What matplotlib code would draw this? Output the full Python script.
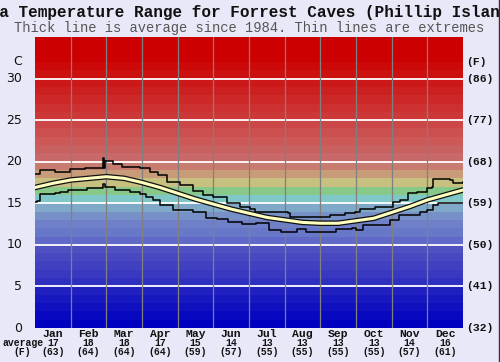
import matplotlib
matplotlib.use("Agg")
import matplotlib.pyplot as plt
import matplotlib.patheffects as pe
from matplotlib.lines import Line2D

# monthly averages shown under the chart
months = ["Jan", "Feb", "Mar", "Apr", "May", "Jun", "Jul", "Aug", "Sep", "Oct", "Nov", "Dec"]
avg_c = [17, 18, 18, 17, 15, 14, 13, 13, 13, 13, 14, 16]
avg_f = [63, 64, 64, 64, 59, 57, 55, 55, 55, 55, 57, 61]

# axis ticks
c_ticks = [0, 5, 10, 15, 20, 25, 30]
f_labels = ["(32)", "(41)", "(50)", "(59)", "(68)", "(77)", "(86)"]

# average line (x in months from 1 Jan)
avg_x = [0.0, 0.5, 1.0, 1.5, 2.0, 2.5, 3.0, 3.5, 4.0, 4.5, 5.0, 5.5, 6.0,
         6.5, 7.0, 7.5, 8.0, 8.5, 9.0, 9.5, 10.0, 10.5, 11.0, 11.5, 12.0]
avg_y = [16.9, 17.4, 17.8, 18.0, 18.2, 18.0, 17.5, 16.9, 16.2, 15.5, 14.9, 14.3, 13.8,
         13.3, 13.0, 12.7, 12.6, 12.6, 12.9, 13.2, 13.9, 14.6, 15.4, 16.0, 16.6]

# highest recorded
max_x = [0.0, 0.14, 0.42, 0.56, 0.98, 1.40, 1.88, 1.91, 1.93, 1.96, 2.19, 2.44, 2.94,
         3.22, 3.45, 3.70, 4.07, 4.43, 4.71, 4.99, 5.38, 5.75, 6.03, 6.17, 6.45, 7.09,
         7.15, 7.57, 8.13, 8.27, 8.69, 8.97, 9.11, 9.53, 10.04, 10.23, 10.46, 10.71,
         10.99, 11.13, 11.16, 11.63, 11.72, 12.0]
max_y = [18.5, 19.0, 19.0, 18.8, 19.1, 19.2, 19.2, 20.4, 19.2, 20.1, 19.7, 19.4, 19.2,
         18.8, 18.4, 17.6, 17.2, 16.5, 16.0, 15.8, 15.0, 14.5, 14.3, 14.0, 13.9, 13.8,
         13.4, 13.3, 13.3, 13.6, 13.8, 14.0, 14.3, 14.5, 15.1, 15.4, 16.2, 16.4,
         16.8, 17.0, 17.9, 17.8, 17.5, 17.6]

# lowest recorded
min_x = [0.0, 0.06, 0.14, 0.56, 0.70, 0.93, 1.45, 1.88, 1.91, 1.96, 2.25, 2.65, 2.94,
         3.10, 3.30, 3.50, 3.88, 4.43, 4.80, 5.10, 5.40, 5.80, 6.20, 6.55, 6.90, 7.35,
         7.60, 8.45, 8.90, 9.00, 9.20, 9.95, 10.20, 10.80, 10.99, 11.16, 11.30, 12.0]
min_y = [15.2, 15.3, 16.1, 16.2, 16.4, 16.6, 16.8, 16.8, 17.3, 17.0, 16.6, 16.3, 16.1,
         15.8, 15.4, 14.8, 14.2, 14.0, 13.2, 13.1, 12.8, 12.5, 12.6, 11.8, 11.6, 11.9,
         11.6, 11.9, 12.0, 11.8, 12.4, 13.0, 13.6, 13.9, 14.2, 14.8, 15.0, 15.0]

# background band colours, one per degree from 0 upward
band_colors = [
    "#0000c0", "#0808c0", "#1010c0", "#1818c0", "#2020c0",
    "#3030c0", "#3838c0", "#4040c0", "#4848c0", "#5050c0",
    "#6068c8", "#6878c8", "#7080c8", "#7890c8", "#80a8c8",
    "#80c8c8", "#88c888", "#c8c080", "#c89c78", "#c87c70",
    "#c86868", "#c86060", "#cc5858", "#cc5050", "#cc4848",
    "#cc3838", "#cc3030", "#cc2828", "#cc2020", "#cc1818",
    "#cc1010", "#cc0808", "#cc0000", "#cc0000", "#cc0000",
]

bg = "#e8e8f8"
mono = "Liberation Mono"

fig = plt.figure(figsize=(5.0, 3.62), dpi=100, facecolor=bg)
ax = fig.add_axes([35 / 500, 1 - 328 / 362, 428 / 500, 291 / 362])
ax.set_xlim(0, 12)
ax.set_ylim(0, 35)

for i, col in enumerate(band_colors):
    ax.axhspan(i, i + 1, color=col, lw=0, zorder=0)
for t in c_ticks[1:]:
    ax.axhline(t, color="white", lw=1.3, zorder=1)
for m in range(1, 12):
    ax.axvline(m, color="#808080", lw=0.9, zorder=1)

ax.plot(max_x, max_y, color="black", lw=1.1, drawstyle="steps-post", zorder=3)
ax.plot(min_x, min_y, color="black", lw=1.1, drawstyle="steps-post", zorder=3)
ax.plot(avg_x, avg_y, color="#ffffc0", lw=2.2, zorder=4,
        path_effects=[pe.Stroke(linewidth=4.0, foreground="#111111"), pe.Normal()])

for s in ax.spines.values():
    s.set_visible(False)
ax.set_xticks([])
ax.set_yticks([])

# left celsius labels, right fahrenheit labels
for t, fl in zip(c_ticks, f_labels):
    ax.text(-0.030, t, str(t), transform=ax.get_yaxis_transform(), ha="right", va="center",
            fontsize=9, color="#111111", family="DejaVu Sans")
    ax.text(1.007, t, fl, transform=ax.get_yaxis_transform(), ha="left", va="center",
            fontsize=8.2, fontweight="bold", color="#111111", family=mono)
ax.text(-0.030, 32, "C", transform=ax.get_yaxis_transform(), ha="right", va="center",
        fontsize=9, color="#111111", family="DejaVu Sans")
ax.text(1.007, 32, "(F)", transform=ax.get_yaxis_transform(), ha="left", va="center",
        fontsize=8.2, fontweight="bold", color="#111111", family=mono)

# month labels and averages
xt = ax.get_xaxis_transform()
for i, (m, c, f) in enumerate(zip(months, avg_c, avg_f)):
    ax.text(i + 0.5, -6 / 291, m, transform=xt, ha="center", va="center",
            fontsize=8.2, fontweight="bold", color="#111111", family=mono)
    ax.text(i + 0.5, -15 / 291, str(c), transform=xt, ha="center", va="center",
            fontsize=7, fontweight="bold", color="#111111", family=mono)
    ax.text(i + 0.5, -24 / 291, "(%d)" % f, transform=xt, ha="center", va="center",
            fontsize=7, fontweight="bold", color="#111111", family=mono)
ax.text(-33 / 428, -15 / 291, "average", transform=ax.transAxes, ha="left", va="center",
        fontsize=7, fontweight="bold", color="#111111", family=mono)
ax.text(-13 / 428, -24 / 291, "(F)", transform=ax.transAxes, ha="center", va="center",
        fontsize=7, fontweight="bold", color="#111111", family=mono)

fig.text(249 / 500, 1 - 12 / 362, "Sea Temperature Range for Forrest Caves (Phillip Island)",
         ha="center", va="center", fontsize=11.5, fontweight="bold", color="#111111", family=mono)
fig.text(249 / 500, 1 - 28 / 362, "Thick line is average since 1984. Thin lines are extremes",
         ha="center", va="center", fontsize=9.9, color="#555555", family=mono)

fig.add_artist(Line2D([0.997, 0.997], [0, 1], transform=fig.transFigure, color="#333333", lw=1))

fig.savefig("out.png", dpi=100, facecolor=bg)
